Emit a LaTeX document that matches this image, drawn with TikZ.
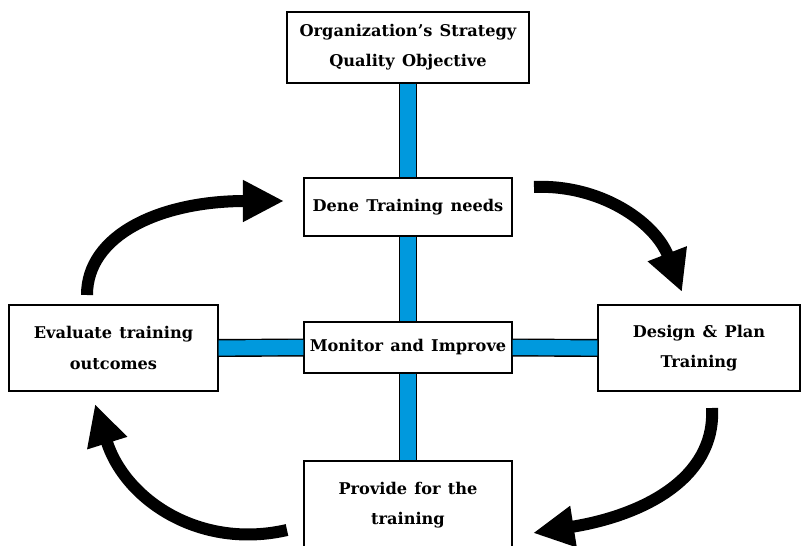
\documentclass[tikz,border=0pt]{standalone}
\usepackage{fontspec}
\setmainfont{DejaVu Serif}
\usetikzlibrary{arrows.meta}
\definecolor{barblue}{HTML}{0099DD}
\newcommand\boxfont{\bfseries\fontsize{11.5}{21.5}\selectfont\spaceskip 0.45em plus 0.1em\relax}

\begin{document}
\begin{tikzpicture}[
  x=0.025cm, y=-0.025cm,
  box/.style={draw, thick, fill=white, align=center, inner sep=2pt, font=\boxfont},
  bar/.style={draw=black, line width=1pt, double=barblue, double distance=10.8pt},
  cycle/.style={-{Triangle[length=1.025cm, width=0.975cm]}, line width=0.3cm}
]
\clip (0,0) rectangle (803,546);
% boxes
\node[box, minimum width=6.05cm, minimum height=1.775cm] (strategy) at (408,47.5) {Organization's Strategy\\Quality Objective};
\node[box, minimum width=5.2cm, minimum height=1.45cm] (needs) at (408,207) {Dene Training needs};
\node[box, minimum width=5.2cm, minimum height=1.275cm] (monitor) at (408,347.5) {Monitor and Improve};
\node[box, minimum width=5.225cm, minimum height=2.15cm] (evaluate) at (113.5,348) {Evaluate training\\outcomes};
\node[box, minimum width=5.05cm, minimum height=2.15cm] (design) at (699,348) {Design \& Plan\\Training};
\node[box, minimum width=5.2cm, minimum height=2.2cm] (provide) at (408,505) {Provide for the\\training};
% blue bars
\draw[bar] (strategy.south) -- (needs.north);
\draw[bar] (needs.south) -- (monitor.north);
\draw[bar] (monitor.south) -- (provide.north);
\draw[bar] (evaluate.east) -- (monitor.west);
\draw[bar] (monitor.east) -- (design.west);
% cycle arrows
\coordinate (c1s) at (87,295);
\coordinate (c1e) at (284,201);
\coordinate (c2s) at (534,187);
\coordinate (c2e) at (682,292);
\coordinate (c3s) at (712,408);
\coordinate (c3e) at (533,533);
\coordinate (c4s) at (287,530);
\coordinate (c4e) at (95,404);
\draw[cycle] (c1s) .. controls (87,235) and (160,201) .. (c1e);
\draw[cycle] (c2s) .. controls (600,184) and (655,222) .. (c2e);
\draw[cycle] (c3s) .. controls (716,480) and (640,516) .. (c3e);
\draw[cycle] (c4s) .. controls (200,550) and (125,500) .. (c4e);
\end{tikzpicture}
\end{document}
